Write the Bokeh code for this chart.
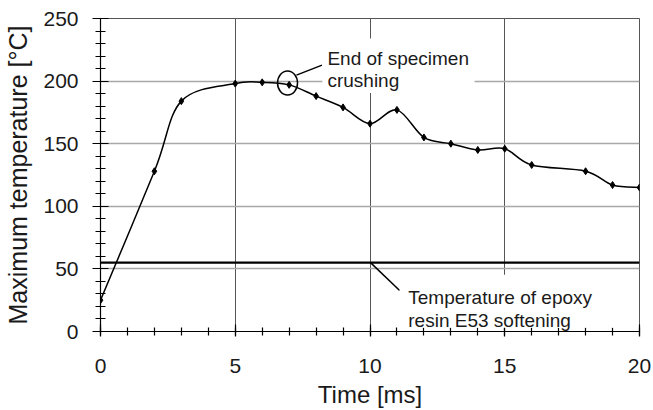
import numpy as np
from bokeh.plotting import figure
from bokeh.models import Range1d, SingleIntervalTicker, Span, Label, BoxAnnotation
from bokeh.embed import file_html
from bokeh.resources import INLINE

# ---- data ----
time_ms = [0, 2, 3, 5, 6, 7, 8, 9, 10, 11, 12, 13, 14, 15, 16, 18, 19, 20]
max_temp = [25, 128, 184, 198, 199, 197, 188, 179, 166, 177, 155, 150, 145, 146, 133, 128, 117, 115]
epoxy_softening = 55
crush_end_time = 7
crush_end_temp = 197
note_crush = ["End of specimen", "crushing"]
note_epoxy = ["Temperature of epoxy", "resin E53 softening"]
x_title = "Time [ms]"
y_title = "Maximum temperature [°C]"

FONT = "Liberation Sans"
TXT = "#1a1a1a"

p = figure(width=653, height=410, x_range=Range1d(0, 20), y_range=Range1d(0, 250),
           output_backend="svg", toolbar_location=None,
           min_border_left=100, min_border_right=14, min_border_top=18, min_border_bottom=78)
p.background_fill_color = "white"
p.border_fill_color = "white"
p.outline_line_color = "#555555"
p.outline_line_width = 1

# axes
p.xaxis.ticker = SingleIntervalTicker(interval=5, num_minor_ticks=5)
p.yaxis.ticker = SingleIntervalTicker(interval=50, num_minor_ticks=5)
for ax in (p.xaxis[0], p.yaxis[0]):
    ax.axis_line_color = "black"
    ax.axis_line_width = 1.2
    ax.major_tick_line_color = "black"
    ax.minor_tick_line_color = "black"
    ax.major_tick_line_width = 1.2
    ax.minor_tick_line_width = 1.2
    ax.major_label_text_font = FONT
    ax.major_label_text_font_size = "21px"
    ax.major_label_text_color = TXT
    ax.axis_label_text_font = FONT
    ax.axis_label_text_font_style = "normal"
    ax.axis_label_text_color = TXT
p.xaxis.major_tick_in = 7
p.xaxis.major_tick_out = 5
p.xaxis.minor_tick_in = 4
p.xaxis.minor_tick_out = 4
p.xaxis.major_label_standoff = 22
p.xaxis.axis_label = x_title
p.xaxis.axis_label_text_font_size = "24px"
p.xaxis.axis_label_standoff = 5

p.yaxis.major_tick_in = 8
p.yaxis.major_tick_out = 8
p.yaxis.minor_tick_in = 5
p.yaxis.minor_tick_out = 5
p.yaxis.major_label_standoff = 14
p.yaxis.axis_label = y_title
p.yaxis.axis_label_text_font_size = "25px"
p.yaxis.axis_label_standoff = 8

# grids
p.xgrid.grid_line_color = "#555555"
p.xgrid.grid_line_width = 1
p.ygrid.grid_line_color = "#a8a8a8"
p.ygrid.grid_line_width = 1.6

# softening line
p.add_layout(Span(location=epoxy_softening, dimension="width",
                  line_color="black", line_width=2.4))

# smooth curve (Catmull-Rom -> cubic Bezier) through the data points
xs = np.array(time_ms, dtype=float)
ys = np.array(max_temp, dtype=float)
n = len(xs)
xp = np.concatenate([[xs[0]], xs, [xs[-1]]])
yp = np.concatenate([[ys[0]], ys, [ys[-1]]])
i = np.arange(n - 1)
cx0 = xp[i + 1] + (xp[i + 2] - xp[i]) / 6.0
cy0 = yp[i + 1] + (yp[i + 2] - yp[i]) / 6.0
cx1 = xp[i + 2] - (xp[i + 3] - xp[i + 1]) / 6.0
cy1 = yp[i + 2] - (yp[i + 3] - yp[i + 1]) / 6.0
p.bezier(x0=xs[:-1], y0=ys[:-1], x1=xs[1:], y1=ys[1:],
         cx0=cx0, cy0=cy0, cx1=cx1, cy1=cy1, line_color="black", line_width=1.5)
p.scatter(time_ms, max_temp, marker="diamond", size=7, color="black")

# annotation: end of crushing
p.ellipse(x=[crush_end_time - 0.06], y=[crush_end_temp + 1.5], width=20, height=24,
          width_units="screen", height_units="screen",
          fill_alpha=0, line_color="black", line_width=1.5)
p.add_layout(BoxAnnotation(left=8.23, right=13.88, bottom=190.5, top=234,
                           fill_color="white", fill_alpha=1, line_alpha=0))
p.segment(x0=[7.27], y0=[204.8], x1=[8.22], y1=[212.8], line_color="black", line_width=1.5)
for txt, yy in zip(note_crush, [218.1, 200.8]):
    p.add_layout(Label(x=8.42, y=yy, text=txt, text_font=FONT, text_font_size="19px",
                       text_color=TXT, text_baseline="alphabetic", text_align="left"))

# annotation: epoxy softening
p.add_layout(BoxAnnotation(left=11.1, right=19.9, bottom=3.0, top=45.3,
                           fill_color="white", fill_alpha=1, line_alpha=0))
p.segment(x0=[10.02], y0=[epoxy_softening], x1=[11.1], y1=[32.8], line_color="black", line_width=1.5)
for txt, yy in zip(note_epoxy, [27.2, 9.0]):
    p.add_layout(Label(x=11.42, y=yy, text=txt, text_font=FONT, text_font_size="19px",
                       text_color=TXT, text_baseline="alphabetic", text_align="left"))

open("out.html", "w").write(file_html(p, INLINE))
